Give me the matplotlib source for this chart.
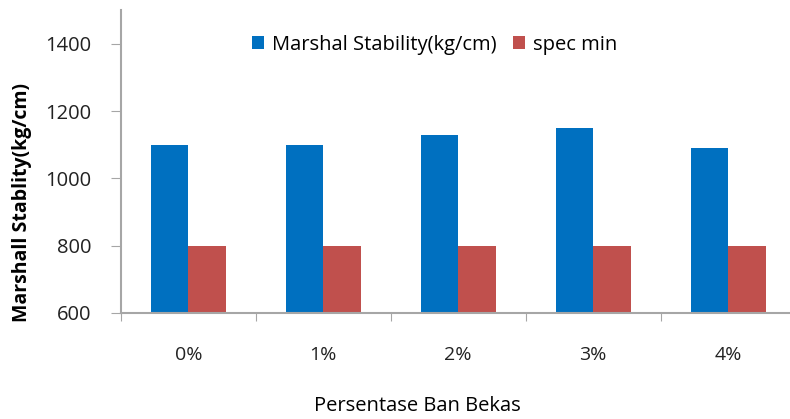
import numpy as np
import matplotlib as mpl
import matplotlib.pyplot as plt

# Chart data
categories = ['0%', '1%', '2%', '3%', '4%']
marshal_stability = [1100, 1100, 1130, 1150, 1090]
spec_min = [800, 800, 800, 800, 800]

mpl.rcParams['font.family'] = ['Open Sans', 'DejaVu Sans']
axis_color = '#a6a6a6'

fig = plt.figure(figsize=(7.9, 4.19), dpi=100)
ax = fig.add_axes([0.153, 0.253, 0.854, 0.723])

x = np.arange(len(categories))
w = 0.278
ax.bar(x - w / 2, marshal_stability, w, color='#0070c0', label='Marshal Stability(kg/cm)', zorder=2)
ax.bar(x + w / 2, spec_min, w, color='#c0504d', label='spec min', zorder=2)

ax.set_ylim(600, 1500)
ax.set_yticks([600, 800, 1000, 1200, 1400])
ax.set_xlim(-0.5, len(categories) - 0.5)

# category boundaries as major ticks, labels on minor ticks
ax.set_xticks(np.arange(len(categories) + 1) - 0.5)
ax.set_xticklabels([])
ax.set_xticks(x, minor=True)
ax.set_xticklabels(categories, minor=True)
ax.tick_params(axis='x', which='major', length=6, color=axis_color, direction='out')
ax.tick_params(axis='x', which='minor', length=0, pad=24, labelsize=14, labelcolor='#222222')
ax.tick_params(axis='y', length=7, color=axis_color, labelsize=14.5, labelcolor='#222222', pad=14)

for s in ['top', 'right']:
    ax.spines[s].set_visible(False)
for s in ['left', 'bottom']:
    ax.spines[s].set_color(axis_color)
    ax.spines[s].set_linewidth(1.5)

ax.set_ylabel('Marshall Stablity(kg/cm)', fontsize=14, fontweight='bold')
ax.yaxis.set_label_coords(-0.132, 0.366)
ax.set_xlabel('Persentase Ban Bekas', fontsize=14.5)
ax.xaxis.set_label_coords(0.44, -0.275)

ax.legend(loc='center', bbox_to_anchor=(0.465, 0.885), ncol=2, frameon=False,
          fontsize=14.5, handlelength=0.6, handleheight=0.6, handletextpad=0.4, columnspacing=0.8)

plt.savefig('out.png', dpi=100)
